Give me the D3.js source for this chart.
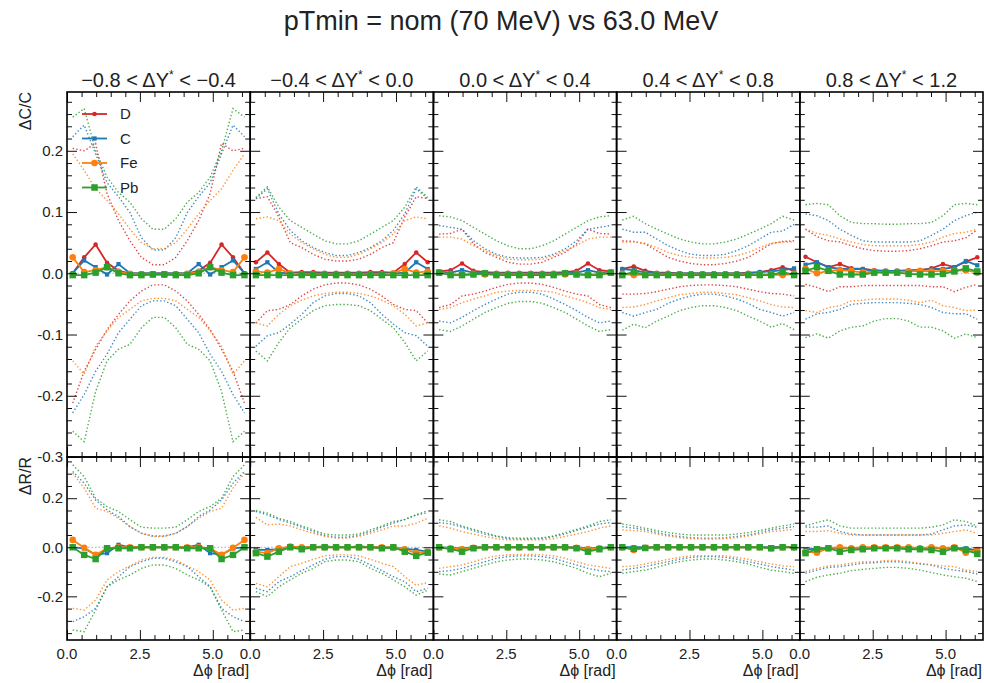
<!DOCTYPE html>
<html>
<head>
<meta charset="utf-8">
<script src="https://cdn.jsdelivr.net/npm/d3@7"></script>
<style>
  body { margin: 0; background: #fff; }
  svg text { font-family: "Liberation Sans", Arial, sans-serif; fill: #222; }
</style>
</head>
<body>
<svg id="chart" width="984" height="683"></svg>
<script>
// ---- data ----
const title = 'pTmin = nom (70 MeV) vs 63.0 MeV';
const panelLo = ['\u22120.8', '\u22120.4', '0.0', '0.4', '0.8'];
const panelHi = ['\u22120.4', '0.0', '0.4', '0.8', '1.2'];
const species = ['D', 'C', 'Fe', 'Pb'];
const speciesColors = ['#d62728', '#1f77b4', '#ff7f0e', '#2ca02c'];
const phiBins = [0.196, 0.589, 0.982, 1.374, 1.767, 2.160, 2.553, 2.945, 3.338, 3.731, 4.123, 4.516, 4.909, 5.301, 5.694, 6.087];

// ΔC/C central values, one row per ΔY* slice
const dC_D = [
  [0.0, 0.026, 0.047, 0.017, 0.004, 0.0, 0.0, 0.0, 0.0, 0.0, 0.0, 0.004, 0.017, 0.047, 0.026, 0.0],
  [0.018, 0.034, 0.015, 0.001, 0.002, 0.002, 0.001, 0.001, 0.001, 0.001, 0.002, 0.002, 0.001, 0.015, 0.034, 0.018],
  [0.003, 0.005, 0.016, 0.004, 0.002, 0.001, 0.001, 0.001, 0.001, 0.001, 0.001, 0.002, 0.004, 0.016, 0.005, 0.003],
  [0.007, 0.011, 0.004, 0.001, 0.001, 0.0, 0.0, 0.0, 0.0, 0.0, 0.0, 0.001, 0.002, 0.005, 0.01, 0.004],
  [0.027, 0.018, 0.01, 0.015, 0.008, 0.007, 0.005, 0.004, 0.004, 0.005, 0.005, 0.008, 0.015, 0.01, 0.019, 0.026]
];
const dC_C = [
  [0.0, 0.021, 0.01, -0.002, 0.015, 0.0, 0.0, 0.0, 0.0, 0.0, 0.0, 0.015, -0.002, 0.01, 0.021, 0.0],
  [0.007, 0.018, 0.001, 0.0, 0.0, 0.0, 0.0, 0.0, 0.0, 0.0, 0.0, 0.0, 0.0, 0.001, 0.018, 0.007],
  [0.002, 0.001, 0.005, 0.001, 0.0, 0.0, 0.0, 0.0, 0.0, 0.0, 0.0, 0.0, 0.001, 0.005, 0.001, 0.002],
  [0.007, 0.005, 0.001, 0.0, 0.0, 0.0, 0.0, 0.0, 0.0, 0.0, 0.0, 0.0, 0.002, 0.003, 0.005, 0.008],
  [0.014, 0.018, 0.01, 0.007, 0.007, 0.007, 0.004, 0.004, 0.004, 0.004, 0.005, 0.007, 0.007, 0.01, 0.02, 0.013]
];
const dC_Fe = [
  [0.026, 0.002, 0.005, 0.01, 0.002, -0.001, -0.002, -0.002, -0.002, -0.002, -0.001, 0.002, 0.01, 0.005, 0.002, 0.026],
  [0.003, 0.001, 0.007, 0.0, -0.002, -0.002, -0.002, -0.002, -0.002, -0.002, -0.002, -0.002, 0.0, 0.007, 0.001, 0.003],
  [0.001, -0.002, -0.002, -0.001, -0.002, -0.002, -0.002, -0.002, -0.002, -0.002, -0.002, -0.002, -0.001, -0.002, -0.002, 0.001],
  [-0.001, -0.003, -0.002, -0.002, -0.002, -0.002, -0.002, -0.002, -0.002, -0.002, -0.002, -0.002, -0.002, -0.002, -0.003, -0.001],
  [0.007, 0.0, 0.004, 0.005, 0.004, 0.001, 0.003, 0.001, 0.002, 0.003, 0.004, 0.003, 0.004, 0.004, 0.005, 0.001]
];
const dC_Pb = [
  [-0.003, -0.003, 0.001, 0.01, 0.0, -0.003, -0.003, -0.002, -0.002, -0.003, -0.003, 0.0, 0.01, 0.001, -0.003, -0.003],
  [-0.003, -0.003, -0.003, -0.003, -0.003, -0.003, -0.003, -0.003, -0.003, -0.003, -0.003, -0.003, -0.003, -0.003, -0.003, -0.003],
  [0.001, -0.003, -0.003, -0.002, 0.0, -0.003, -0.003, -0.003, -0.003, -0.003, -0.003, 0.0, -0.002, -0.003, -0.003, 0.001],
  [-0.003, 0.002, -0.003, -0.003, -0.003, -0.003, -0.003, -0.003, -0.003, -0.003, -0.003, -0.003, -0.003, -0.003, 0.002, -0.003],
  [0.004, 0.01, 0.004, -0.002, -0.002, -0.002, 0.001, 0.001, 0.001, -0.001, -0.002, -0.002, -0.001, 0.003, 0.008, 0.003]
];

// ΔC/C upper / lower dotted envelopes
const dC_D_up = [
  [0.204, 0.2, 0.212, 0.13, 0.086, 0.053, 0.026, 0.014, 0.014, 0.026, 0.053, 0.086, 0.13, 0.212, 0.2, 0.204],
  [0.122, 0.125, 0.092, 0.05, 0.042, 0.031, 0.023, 0.02, 0.02, 0.023, 0.031, 0.042, 0.05, 0.092, 0.125, 0.122],
  [0.064, 0.065, 0.072, 0.048, 0.034, 0.026, 0.018, 0.015, 0.015, 0.018, 0.026, 0.034, 0.048, 0.072, 0.065, 0.064],
  [0.053, 0.052, 0.048, 0.037, 0.026, 0.02, 0.016, 0.014, 0.014, 0.016, 0.02, 0.026, 0.037, 0.048, 0.052, 0.053],
  [0.072, 0.06, 0.053, 0.051, 0.045, 0.04, 0.037, 0.036, 0.036, 0.037, 0.04, 0.045, 0.051, 0.053, 0.058, 0.071]
];
const dC_D_dn = [
  [-0.212, -0.16, -0.124, -0.092, -0.067, -0.045, -0.029, -0.019, -0.019, -0.029, -0.045, -0.067, -0.092, -0.124, -0.16, -0.212],
  [-0.081, -0.061, -0.059, -0.051, -0.037, -0.026, -0.019, -0.016, -0.016, -0.019, -0.026, -0.037, -0.051, -0.059, -0.061, -0.081],
  [-0.056, -0.051, -0.037, -0.034, -0.029, -0.023, -0.018, -0.016, -0.016, -0.018, -0.023, -0.029, -0.034, -0.037, -0.051, -0.056],
  [-0.034, -0.034, -0.033, -0.03, -0.026, -0.022, -0.02, -0.019, -0.019, -0.02, -0.022, -0.026, -0.03, -0.033, -0.034, -0.037],
  [-0.018, -0.023, -0.03, -0.022, -0.022, -0.02, -0.02, -0.02, -0.02, -0.02, -0.02, -0.022, -0.022, -0.03, -0.023, -0.018]
];
const dC_C_up = [
  [0.223, 0.242, 0.195, 0.148, 0.125, 0.099, 0.058, 0.038, 0.038, 0.058, 0.099, 0.125, 0.148, 0.195, 0.242, 0.223],
  [0.122, 0.138, 0.097, 0.07, 0.053, 0.042, 0.034, 0.029, 0.029, 0.034, 0.042, 0.053, 0.07, 0.097, 0.138, 0.122],
  [0.078, 0.075, 0.072, 0.053, 0.04, 0.031, 0.026, 0.025, 0.025, 0.026, 0.031, 0.04, 0.053, 0.072, 0.075, 0.078],
  [0.072, 0.067, 0.067, 0.056, 0.045, 0.037, 0.031, 0.029, 0.029, 0.031, 0.037, 0.045, 0.056, 0.067, 0.069, 0.08],
  [0.097, 0.094, 0.086, 0.072, 0.062, 0.053, 0.051, 0.051, 0.051, 0.051, 0.053, 0.062, 0.072, 0.086, 0.094, 0.1]
];
const dC_C_dn = [
  [-0.228, -0.198, -0.16, -0.132, -0.097, -0.075, -0.053, -0.045, -0.045, -0.053, -0.075, -0.097, -0.132, -0.16, -0.198, -0.228],
  [-0.119, -0.102, -0.097, -0.083, -0.067, -0.048, -0.037, -0.033, -0.033, -0.037, -0.048, -0.067, -0.083, -0.097, -0.102, -0.119],
  [-0.078, -0.081, -0.072, -0.061, -0.051, -0.042, -0.034, -0.031, -0.031, -0.034, -0.042, -0.051, -0.061, -0.072, -0.081, -0.078],
  [-0.064, -0.07, -0.064, -0.059, -0.049, -0.042, -0.037, -0.034, -0.034, -0.037, -0.042, -0.049, -0.059, -0.064, -0.07, -0.064],
  [-0.075, -0.066, -0.064, -0.059, -0.051, -0.049, -0.048, -0.048, -0.048, -0.049, -0.051, -0.056, -0.064, -0.066, -0.066, -0.075]
];
const dC_Fe_up = [
  [0.195, 0.168, 0.138, 0.119, 0.097, 0.072, 0.05, 0.04, 0.04, 0.05, 0.072, 0.097, 0.119, 0.138, 0.168, 0.195],
  [0.089, 0.092, 0.086, 0.064, 0.05, 0.04, 0.031, 0.026, 0.026, 0.031, 0.04, 0.05, 0.064, 0.086, 0.092, 0.089],
  [0.059, 0.059, 0.056, 0.045, 0.037, 0.029, 0.023, 0.022, 0.022, 0.023, 0.029, 0.037, 0.045, 0.056, 0.059, 0.059],
  [0.051, 0.051, 0.049, 0.042, 0.034, 0.029, 0.026, 0.025, 0.025, 0.026, 0.029, 0.034, 0.042, 0.049, 0.051, 0.051],
  [0.072, 0.065, 0.062, 0.056, 0.051, 0.047, 0.045, 0.045, 0.045, 0.045, 0.047, 0.051, 0.059, 0.065, 0.067, 0.072]
];
const dC_Fe_dn = [
  [-0.143, -0.165, -0.119, -0.094, -0.072, -0.059, -0.045, -0.041, -0.041, -0.045, -0.059, -0.072, -0.094, -0.119, -0.165, -0.143],
  [-0.081, -0.086, -0.067, -0.053, -0.044, -0.037, -0.033, -0.031, -0.031, -0.033, -0.037, -0.044, -0.053, -0.067, -0.086, -0.081],
  [-0.059, -0.056, -0.048, -0.042, -0.037, -0.031, -0.029, -0.028, -0.028, -0.029, -0.031, -0.037, -0.042, -0.048, -0.056, -0.059],
  [-0.056, -0.055, -0.051, -0.045, -0.04, -0.035, -0.033, -0.031, -0.031, -0.033, -0.035, -0.04, -0.045, -0.051, -0.055, -0.056],
  [-0.061, -0.064, -0.056, -0.053, -0.045, -0.044, -0.042, -0.042, -0.042, -0.044, -0.048, -0.044, -0.053, -0.056, -0.061, -0.06]
];
const dC_Pb_up = [
  [0.255, 0.269, 0.2, 0.157, 0.132, 0.116, 0.089, 0.072, 0.072, 0.089, 0.116, 0.132, 0.157, 0.2, 0.269, 0.255],
  [0.124, 0.141, 0.108, 0.086, 0.075, 0.064, 0.053, 0.048, 0.048, 0.053, 0.064, 0.075, 0.086, 0.108, 0.141, 0.124],
  [0.094, 0.092, 0.086, 0.075, 0.064, 0.053, 0.045, 0.04, 0.04, 0.045, 0.053, 0.064, 0.075, 0.086, 0.092, 0.094],
  [0.087, 0.093, 0.081, 0.072, 0.064, 0.056, 0.051, 0.048, 0.048, 0.051, 0.056, 0.064, 0.072, 0.081, 0.093, 0.087],
  [0.112, 0.114, 0.112, 0.094, 0.083, 0.081, 0.081, 0.08, 0.08, 0.081, 0.081, 0.083, 0.094, 0.112, 0.114, 0.112]
];
const dC_Pb_dn = [
  [-0.258, -0.275, -0.193, -0.143, -0.124, -0.116, -0.089, -0.072, -0.072, -0.089, -0.116, -0.124, -0.143, -0.193, -0.275, -0.258],
  [-0.127, -0.143, -0.113, -0.089, -0.075, -0.061, -0.053, -0.051, -0.051, -0.053, -0.061, -0.075, -0.089, -0.113, -0.143, -0.127],
  [-0.092, -0.095, -0.086, -0.075, -0.064, -0.056, -0.049, -0.046, -0.046, -0.049, -0.056, -0.064, -0.075, -0.086, -0.095, -0.092],
  [-0.093, -0.083, -0.089, -0.078, -0.07, -0.061, -0.056, -0.053, -0.053, -0.056, -0.061, -0.07, -0.078, -0.088, -0.082, -0.092],
  [-0.105, -0.099, -0.106, -0.094, -0.088, -0.086, -0.078, -0.074, -0.074, -0.078, -0.088, -0.088, -0.094, -0.106, -0.099, -0.105]
];

// ΔR/R central values (no D points in this row)
const dR_C = [
  [0.0, -0.004, -0.031, -0.024, 0.01, 0.0, 0.0, 0.0, 0.0, 0.0, 0.0, 0.01, -0.024, -0.031, -0.004, 0.0],
  [-0.011, -0.011, -0.008, 0.003, 0.0, 0.0, 0.005, 0.0, 0.0, 0.005, 0.0, 0.0, -0.004, -0.006, -0.011, -0.018],
  [0.0, -0.003, -0.005, 0.0, 0.0, 0.0, 0.0, 0.0, 0.0, 0.0, 0.0, 0.0, 0.0, -0.005, -0.003, 0.0],
  [0.0, 0.0, 0.0, 0.0, 0.0, 0.0, 0.0, 0.0, 0.0, 0.0, 0.0, 0.0, 0.0, 0.0, 0.003, 0.0],
  [-0.011, -0.004, -0.004, -0.004, -0.004, -0.004, -0.004, 0.0, 0.0, -0.004, -0.004, -0.004, -0.004, -0.004, -0.004, -0.014]
];
const dR_Fe = [
  [0.03, -0.002, -0.031, -0.004, 0.0, 0.0, 0.0, 0.0, 0.0, 0.0, 0.0, 0.0, -0.004, -0.031, -0.002, 0.03],
  [-0.018, -0.024, -0.004, 0.003, 0.0, 0.0, 0.0, 0.0, 0.0, 0.0, 0.0, 0.0, 0.0, -0.008, -0.024, -0.018],
  [0.0, -0.004, -0.008, -0.002, 0.0, 0.0, 0.0, 0.0, 0.0, 0.0, 0.0, 0.0, -0.002, -0.008, -0.004, 0.0],
  [0.0, -0.011, -0.002, 0.0, 0.0, 0.0, 0.0, 0.0, 0.0, 0.0, 0.0, 0.0, 0.0, -0.004, 0.0, 0.0],
  [-0.018, -0.022, -0.004, 0.0, -0.004, 0.0, 0.0, 0.0, 0.0, 0.0, -0.004, 0.0, -0.004, 0.0, -0.022, -0.011]
];
const dR_Pb = [
  [0.0, -0.031, -0.048, -0.004, -0.004, -0.004, 0.0, 0.0, 0.0, 0.0, -0.004, -0.004, -0.004, -0.048, -0.031, 0.0],
  [-0.024, -0.038, -0.018, 0.0, -0.008, 0.0, 0.0, 0.0, 0.0, 0.0, 0.0, -0.004, 0.0, -0.018, -0.035, -0.022],
  [0.0, -0.008, -0.018, -0.004, 0.0, 0.0, 0.0, 0.0, 0.0, 0.0, 0.0, 0.0, -0.004, -0.018, -0.008, 0.0],
  [0.0, -0.006, -0.003, 0.0, 0.0, 0.0, 0.0, 0.0, 0.0, 0.0, 0.0, 0.0, 0.0, -0.004, 0.0, 0.0],
  [-0.024, -0.008, -0.004, -0.018, -0.011, -0.008, -0.004, -0.004, -0.004, -0.008, -0.008, -0.011, -0.018, -0.004, -0.011, -0.027]
];

// ΔR/R upper / lower dotted envelopes
const dR_C_up = [
  [0.309, 0.261, 0.193, 0.152, 0.125, 0.084, 0.057, 0.046, 0.046, 0.057, 0.084, 0.125, 0.152, 0.193, 0.261, 0.309],
  [0.146, 0.132, 0.114, 0.098, 0.082, 0.064, 0.048, 0.041, 0.041, 0.048, 0.064, 0.082, 0.098, 0.114, 0.132, 0.141],
  [0.101, 0.095, 0.082, 0.068, 0.054, 0.044, 0.035, 0.033, 0.033, 0.035, 0.044, 0.054, 0.068, 0.082, 0.095, 0.101],
  [0.084, 0.078, 0.071, 0.06, 0.05, 0.044, 0.039, 0.037, 0.037, 0.039, 0.044, 0.05, 0.06, 0.071, 0.078, 0.084],
  [0.082, 0.082, 0.087, 0.064, 0.054, 0.05, 0.05, 0.05, 0.05, 0.05, 0.05, 0.054, 0.071, 0.087, 0.091, 0.082]
];
const dR_C_dn = [
  [-0.303, -0.283, -0.249, -0.161, -0.12, -0.079, -0.059, -0.045, -0.045, -0.059, -0.079, -0.12, -0.161, -0.249, -0.283, -0.303],
  [-0.167, -0.181, -0.14, -0.12, -0.095, -0.072, -0.049, -0.038, -0.038, -0.049, -0.072, -0.095, -0.12, -0.14, -0.181, -0.167],
  [-0.099, -0.095, -0.086, -0.072, -0.059, -0.045, -0.038, -0.035, -0.035, -0.038, -0.045, -0.059, -0.072, -0.086, -0.095, -0.099],
  [-0.093, -0.086, -0.079, -0.068, -0.059, -0.049, -0.041, -0.038, -0.038, -0.041, -0.049, -0.059, -0.068, -0.079, -0.086, -0.093],
  [-0.106, -0.093, -0.082, -0.079, -0.072, -0.065, -0.063, -0.059, -0.059, -0.063, -0.068, -0.072, -0.086, -0.093, -0.099, -0.109]
];
const dR_Fe_up = [
  [0.302, 0.241, 0.159, 0.146, 0.118, 0.084, 0.057, 0.044, 0.044, 0.057, 0.084, 0.118, 0.146, 0.159, 0.241, 0.302],
  [0.122, 0.091, 0.095, 0.087, 0.071, 0.057, 0.044, 0.038, 0.038, 0.044, 0.057, 0.071, 0.087, 0.087, 0.098, 0.118],
  [0.087, 0.078, 0.064, 0.054, 0.044, 0.035, 0.03, 0.03, 0.03, 0.03, 0.035, 0.044, 0.054, 0.064, 0.078, 0.087],
  [0.071, 0.068, 0.064, 0.054, 0.046, 0.039, 0.035, 0.034, 0.034, 0.035, 0.039, 0.046, 0.054, 0.064, 0.068, 0.073],
  [0.064, 0.064, 0.068, 0.057, 0.05, 0.05, 0.05, 0.05, 0.05, 0.05, 0.05, 0.05, 0.057, 0.064, 0.071, 0.057]
];
const dR_Fe_dn = [
  [-0.249, -0.256, -0.215, -0.133, -0.099, -0.076, -0.052, -0.041, -0.041, -0.052, -0.076, -0.099, -0.133, -0.215, -0.256, -0.249],
  [-0.147, -0.161, -0.12, -0.079, -0.065, -0.049, -0.035, -0.031, -0.031, -0.035, -0.049, -0.065, -0.079, -0.12, -0.155, -0.144],
  [-0.086, -0.079, -0.072, -0.059, -0.045, -0.035, -0.031, -0.029, -0.029, -0.031, -0.035, -0.045, -0.059, -0.072, -0.079, -0.086],
  [-0.079, -0.076, -0.068, -0.059, -0.049, -0.041, -0.035, -0.034, -0.034, -0.035, -0.041, -0.049, -0.059, -0.068, -0.076, -0.079],
  [-0.099, -0.086, -0.076, -0.072, -0.065, -0.059, -0.059, -0.054, -0.054, -0.059, -0.065, -0.072, -0.076, -0.079, -0.093, -0.099]
];
const dR_Pb_up = [
  [0.336, 0.288, 0.2, 0.166, 0.146, 0.112, 0.082, 0.078, 0.078, 0.082, 0.112, 0.146, 0.166, 0.2, 0.288, 0.336],
  [0.15, 0.139, 0.118, 0.105, 0.087, 0.071, 0.054, 0.05, 0.05, 0.054, 0.071, 0.087, 0.105, 0.112, 0.132, 0.15],
  [0.112, 0.105, 0.087, 0.073, 0.06, 0.046, 0.039, 0.037, 0.037, 0.039, 0.046, 0.06, 0.073, 0.087, 0.105, 0.112],
  [0.095, 0.087, 0.078, 0.068, 0.06, 0.054, 0.05, 0.05, 0.05, 0.05, 0.054, 0.06, 0.068, 0.078, 0.087, 0.095],
  [0.087, 0.101, 0.112, 0.087, 0.078, 0.078, 0.078, 0.078, 0.078, 0.078, 0.078, 0.082, 0.091, 0.112, 0.105, 0.087]
];
const dR_Pb_dn = [
  [-0.337, -0.344, -0.256, -0.161, -0.133, -0.113, -0.086, -0.072, -0.072, -0.086, -0.113, -0.133, -0.161, -0.256, -0.344, -0.337],
  [-0.181, -0.201, -0.161, -0.133, -0.106, -0.086, -0.059, -0.052, -0.052, -0.059, -0.086, -0.106, -0.133, -0.161, -0.195, -0.175],
  [-0.109, -0.113, -0.099, -0.086, -0.072, -0.059, -0.052, -0.048, -0.048, -0.052, -0.059, -0.072, -0.086, -0.106, -0.12, -0.106],
  [-0.106, -0.099, -0.093, -0.082, -0.068, -0.059, -0.052, -0.048, -0.048, -0.052, -0.059, -0.068, -0.082, -0.093, -0.099, -0.106],
  [-0.14, -0.122, -0.113, -0.106, -0.095, -0.09, -0.086, -0.082, -0.082, -0.086, -0.093, -0.103, -0.113, -0.12, -0.126, -0.14]
];

// series per row: [speciesIndex, central, up, down]
const topRows = [[0, dC_D, dC_D_up, dC_D_dn], [1, dC_C, dC_C_up, dC_C_dn], [2, dC_Fe, dC_Fe_up, dC_Fe_dn], [3, dC_Pb, dC_Pb_up, dC_Pb_dn]];
const botRows = [[1, dR_C, dR_C_up, dR_C_dn], [2, dR_Fe, dR_Fe_up, dR_Fe_dn], [3, dR_Pb, dR_Pb_up, dR_Pb_dn]];

// ---- layout ----
const left = 67;
const panelW = 183.2;
const yTopPx = 92;
const yMidPx = 457;
const yBotPx = 640;

const svg = d3.select('#chart');

const yTop = d3.scaleLinear().domain([-0.3, 0.296]).range([yMidPx, yTopPx]);
const yBot = d3.scaleLinear().domain([-0.378, 0.368]).range([yBotPx, yMidPx]);

const fmt = d => d.toFixed(1);

svg.append('text')
  .attr('x', 501).attr('y', 30)
  .attr('text-anchor', 'middle')
  .style('font-size', '27px')
  .text(title);

function markerPath(si) {
  if (si === 0) return d3.symbol(d3.symbolCircle, 16)();
  if (si === 1) return d3.symbol(d3.symbolSquare, 18)();
  if (si === 2) return d3.symbol(d3.symbolCircle, 34)();
  return d3.symbol(d3.symbolSquare, 42)();
}

function drawRow(g, x, y, rows, p, yMajor, yMinor, showYLabels, yLabelVals) {
  const [y0, y1] = y.range();

  // zero line
  g.append('line')
    .attr('x1', x.range()[0]).attr('x2', x.range()[1])
    .attr('y1', y(0)).attr('y2', y(0))
    .attr('stroke', '#aaa').attr('stroke-width', 1)
    .attr('stroke-dasharray', '1.5,2');

  const line = d3.line().x((d, i) => x(phiBins[i])).y(d => y(d));

  // dotted envelopes
  rows.forEach(([si, , up, dn]) => {
    [up[p], dn[p]].forEach(vals => {
      g.append('path')
        .attr('d', line(vals))
        .attr('fill', 'none')
        .attr('stroke', speciesColors[si])
        .attr('stroke-width', 1.4)
        .attr('stroke-dasharray', '1.4,2.2')
        .attr('opacity', 0.85);
    });
  });

  // central points
  rows.forEach(([si, cen]) => {
    g.append('path')
      .attr('d', line(cen[p]))
      .attr('fill', 'none')
      .attr('stroke', speciesColors[si])
      .attr('stroke-width', 1.8);
    g.selectAll(null)
      .data(cen[p])
      .enter()
      .append('path')
      .attr('d', markerPath(si))
      .attr('transform', (d, i) => `translate(${x(phiBins[i])},${y(d)})`)
      .attr('fill', speciesColors[si]);
  });

  // ticks (inward on all four sides)
  const xMajor = [0, 2.5, 5.0];
  const xMinor = d3.range(0, 6.3, 0.5).filter(v => v % 2.5 !== 0);
  const axes = [
    [d3.axisBottom(x), `translate(0,${y0})`, xMajor, xMinor],
    [d3.axisTop(x), `translate(0,${y1})`, xMajor, xMinor],
    [d3.axisLeft(y), `translate(${x.range()[0]},0)`, yMajor, yMinor],
    [d3.axisRight(y), `translate(${x.range()[1]},0)`, yMajor, yMinor]
  ];
  axes.forEach(([ax, tr, major, minor]) => {
    [[major, -10], [minor, -5]].forEach(([vals, size]) => {
      const a = g.append('g')
        .attr('transform', tr)
        .call(ax.tickValues(vals).tickSize(size).tickFormat(''));
      a.select('.domain').remove();
      a.selectAll('line').attr('stroke', '#111').attr('stroke-width', 1);
    });
  });

  if (showYLabels) {
    g.selectAll(null)
      .data(yLabelVals)
      .enter()
      .append('text')
      .attr('x', x.range()[0] - 4)
      .attr('y', d => y(d))
      .attr('dy', '0.35em')
      .attr('text-anchor', 'end')
      .style('font-size', '15px')
      .text(fmt);
  }

  // frame
  g.append('rect')
    .attr('x', x.range()[0]).attr('y', y1)
    .attr('width', panelW).attr('height', y0 - y1)
    .attr('fill', 'none').attr('stroke', '#000').attr('stroke-width', 1.6);
}

panelLo.forEach((lo, p) => {
  const x0 = left + p * panelW;
  const x = d3.scaleLinear().domain([0, 2 * Math.PI]).range([x0, x0 + panelW]);
  const g = svg.append('g');

  // panel title
  const t = g.append('text')
    .attr('x', x0 + panelW / 2).attr('y', 87)
    .attr('text-anchor', 'middle')
    .style('font-size', '20px');
  t.append('tspan').text(`${lo} < \u0394Y`);
  t.append('tspan').attr('dy', -8).style('font-size', '12px').text('*');
  t.append('tspan').attr('dy', 8).text(` < ${panelHi[p]}`);

  drawRow(g, x, yTop, topRows, p,
    [-0.3, -0.2, -0.1, 0, 0.1, 0.2],
    d3.range(-0.3, 0.3, 0.02).filter(v => Math.abs(Math.round(v * 10) - v * 10) > 0.01),
    p === 0, [-0.3, -0.2, -0.1, 0, 0.1, 0.2]);
  drawRow(g, x, yBot, botRows, p,
    [-0.2, 0, 0.2],
    [-0.35, -0.3, -0.25, -0.15, -0.1, -0.05, 0.05, 0.1, 0.15, 0.25, 0.3, 0.35],
    p === 0, [-0.2, 0, 0.2]);

  // x tick labels
  g.selectAll(null)
    .data([0, 2.5, 5.0])
    .enter()
    .append('text')
    .attr('x', d => x(d))
    .attr('y', 659)
    .attr('text-anchor', 'middle')
    .style('font-size', '15px')
    .text(fmt);

  g.append('text')
    .attr('x', x0 + panelW - 1).attr('y', 676)
    .attr('text-anchor', 'end')
    .style('font-size', '16px')
    .text('\u0394\u03d5 [rad]');
});

// y axis titles
svg.append('text')
  .attr('transform', `translate(31,${yTopPx}) rotate(-90)`)
  .attr('text-anchor', 'end')
  .style('font-size', '16px')
  .text('\u0394C/C');
svg.append('text')
  .attr('transform', `translate(31,${yMidPx}) rotate(-90)`)
  .attr('text-anchor', 'end')
  .style('font-size', '16px')
  .text('\u0394R/R');

// legend
const legend = svg.append('g');
species.forEach((name, i) => {
  const ly = 114 + i * 24.5;
  legend.append('line')
    .attr('x1', 82).attr('x2', 107).attr('y1', ly).attr('y2', ly)
    .attr('stroke', speciesColors[i]).attr('stroke-width', 1.8);
  legend.append('path')
    .attr('d', markerPath(i))
    .attr('transform', `translate(94.5,${ly})`)
    .attr('fill', speciesColors[i]);
  legend.append('text')
    .attr('x', 120).attr('y', ly).attr('dy', '0.36em')
    .style('font-size', '15px')
    .text(name);
});
</script>
</body>
</html>
